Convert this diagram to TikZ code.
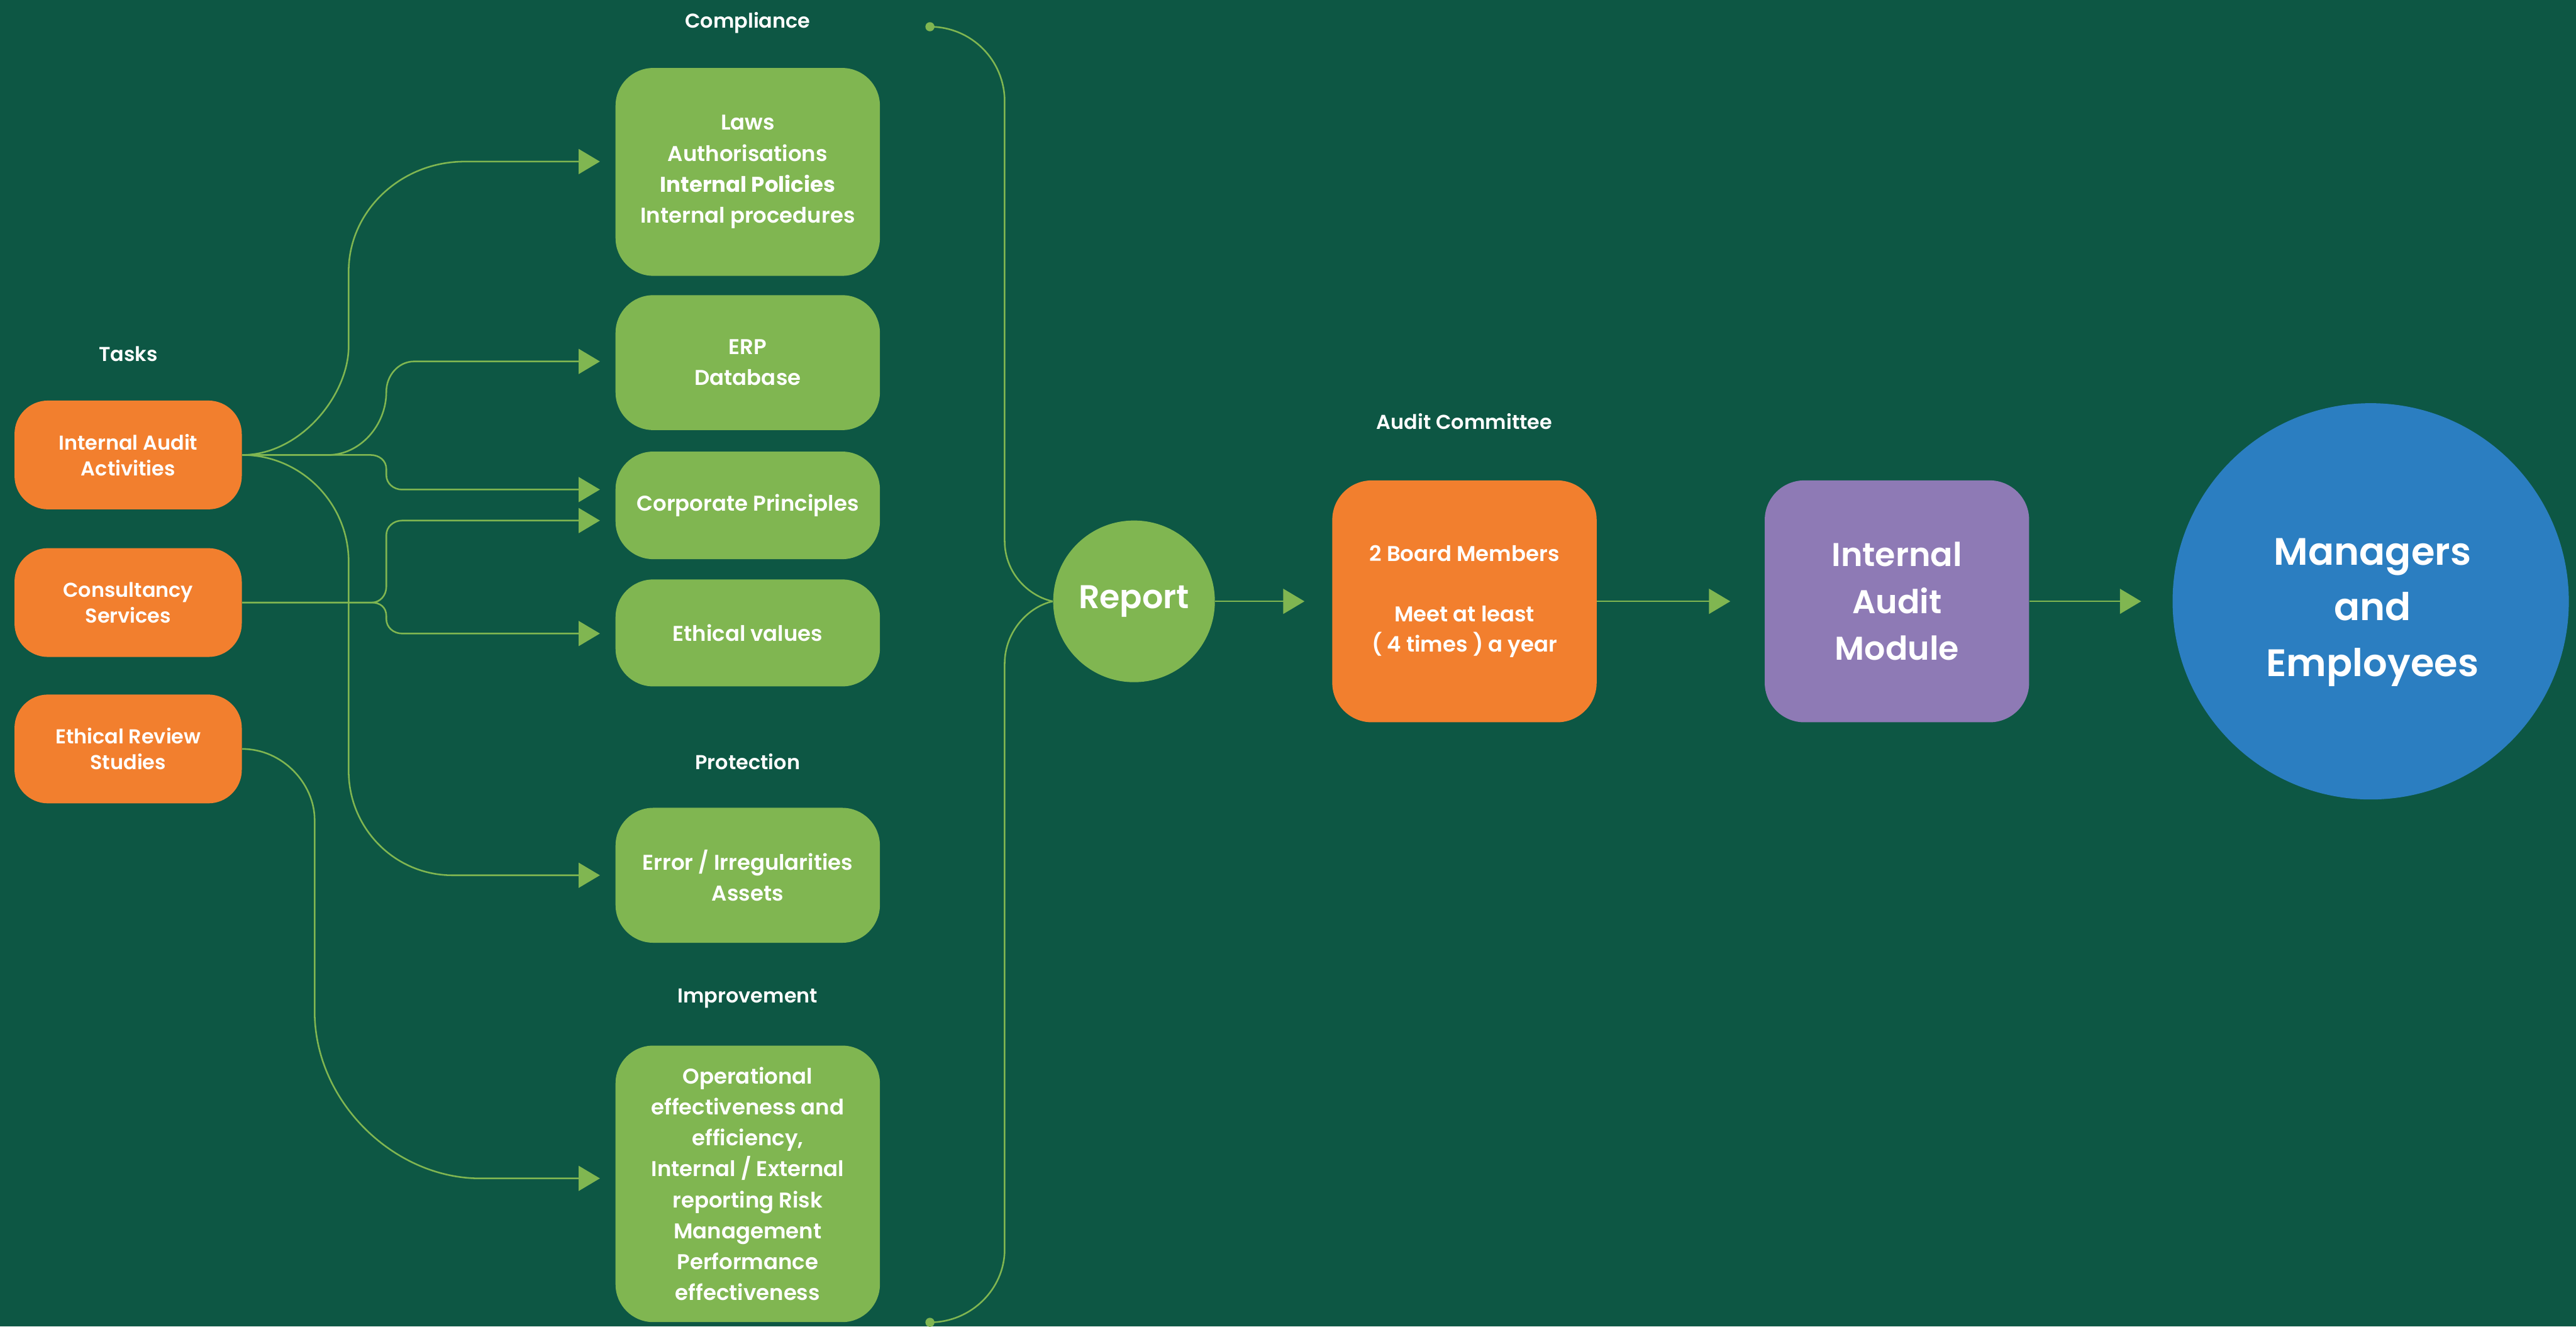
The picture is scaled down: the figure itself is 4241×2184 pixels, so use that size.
\documentclass[tikz,border=0pt]{standalone}
\usepackage{fontspec}
\setmainfont{Poppins}[UprightFont=* SemiBold, BoldFont=* Bold]
\usepackage{xcolor}
\usepackage{tikz}
\usetikzlibrary{arrows.meta}
\usetikzlibrary{calc, positioning}

\definecolor{bgC}{HTML}{0D5744}
\definecolor{greenC}{HTML}{80B651}
\definecolor{orangeC}{HTML}{F27F2E}
\definecolor{purpleC}{HTML}{8E7AB5}
\definecolor{blueC}{HTML}{2B7EC1}

\tikzstyle{task}=[rectangle, rounded corners=0.55cm, fill=orangeC, minimum width=3.74cm, minimum height=1.79cm, align=center, font=\fontsize{9.4pt}{12.2pt}\selectfont]
\tikzstyle{topic}=[rectangle, rounded corners=0.62cm, fill=greenC, minimum width=4.35cm, align=center, font=\fontsize{10pt}{14.5pt}\selectfont]
\tikzstyle{caption}=[font=\fontsize{9.4pt}{12pt}\selectfont]
\tikzstyle{link}=[draw=greenC, line width=0.75pt]
\tikzstyle{dot}=[circle, fill=greenC, inner sep=0pt, minimum size=0.15cm]

\begin{document}
\begin{tikzpicture}[x=0.01cm, y=-0.01cm]

\tikzset{>={Triangle[length=0.35cm, width=0.41cm]}}
\tikzset{every node/.style={text=white}}

% Background
\fill[bgC] (0,0) rectangle (4241,2184);
\useasboundingbox (0,0) rectangle (4241,2184);

% Tasks
\node[caption] (tasks) at (211,583) {Tasks};
\node[task] (ia) at (211,749) {Internal Audit\\Activities};
\node[task] (cs) at (211,992) {Consultancy\\Services};
\node[task] (er) at (211,1233) {Ethical Review\\Studies};

% Compliance, protection, improvement
\node[caption] (compl) at (1231,37) {Compliance};
\node[topic, minimum height=3.42cm] (comp) at (1231,283) {Laws\\Authorisations\\\textbf{Internal Policies}\\Internal procedures};
\node[topic, minimum height=2.22cm] (erp) at (1231,597) {ERP\\Database};
\node[topic, minimum height=1.77cm] (corp) at (1231,832) {Corporate Principles};
\node[topic, minimum height=1.76cm] (eth) at (1231,1042) {Ethical values};
\node[caption] (protl) at (1231,1254) {Protection};
\node[topic, minimum height=2.22cm] (prot) at (1231,1441) {Error / Irregularities\\Assets};
\node[caption] (imprl) at (1231,1644) {Improvement};
\node[topic, minimum height=4.55cm] (impr) at (1231,1949) {Operational\\effectiveness and\\efficiency,\\Internal / External\\reporting Risk\\Management\\Performance\\effectiveness};

% Report and the chain to the right
\node[circle, fill=greenC, minimum size=2.66cm, font=\fontsize{15.4pt}{18pt}\selectfont] (rep) at (1867,990) {Report};
\node[caption] (acl) at (2411,694) {Audit Committee};
\node[rectangle, rounded corners=0.65cm, fill=orangeC, minimum width=4.35cm, minimum height=3.98cm, align=center, font=\fontsize{10pt}{14.2pt}\selectfont] (ac) at (2411,990) {2 Board Members\\ \\Meet at least\\( 4 times ) a year};
\node[rectangle, rounded corners=0.65cm, fill=purpleC, minimum width=4.35cm, minimum height=3.98cm, align=center, font=\fontsize{15.4pt}{21.9pt}\selectfont] (iam) at (3123,990) {Internal\\Audit\\Module};
\node[circle, fill=blueC, minimum size=6.52cm] (me) at (3903,990) {};
\node[align=center, font=\fontsize{17.9pt}{26pt}\selectfont] (metxt) at (3906,1008) {Managers\\and\\Employees};

% Bracket into the report
\node[dot] (ctop) at (1531,44) {};
\node[dot] (cbot) at (1531,2177) {};
\draw[link] (ctop.center) .. controls (1599,44) and (1654,99) .. (1654,167) -- (1654,890) .. controls (1654,945) and (1695,982) .. (rep.west);
\draw[link] (cbot.center) .. controls (1599,2177) and (1654,2122) .. (1654,2057) -- (1654,1093) .. controls (1654,1038) and (1695,998) .. (rep.west);

% Arrows from the tasks
\draw[link,->] (ia.east) .. controls (495,749) and (574,650) .. (574,570) -- (574,447) .. controls (574,347) and (660,266) .. (765,266) -- ($(comp.west)+(-25,-17)$); % ia -> comp
\draw[link,->] (ia.east) -- (540,749) .. controls (593,749) and (636,700) .. (636,645) .. controls (636,618) and (656,595) .. (682,595) -- ($(erp.west)+(-25,-2)$); % ia -> erp
\draw[link,->] (ia.east) -- (610,749) .. controls (624,749) and (636,758) .. (636,772) -- (636,782) .. controls (636,796) and (648,806) .. (662,806) -- ($(corp.west)+(-25,-26)$); % ia -> corp
\draw[link,->] (ia.east) .. controls (495,749) and (574,828) .. (574,925) -- (574,1269) .. controls (574,1364) and (650,1441) .. (745,1441) -- ($(prot.west)+(-25,0)$); % ia -> prot
\draw[link,->] (cs.east) -- (612,992) .. controls (626,992) and (636,980) .. (636,966) -- (636,881) .. controls (636,867) and (648,857) .. (662,857) -- ($(corp.west)+(-25,25)$); % cs -> corp
\draw[link,->] (cs.east) -- (612,992) .. controls (626,992) and (636,1000) .. (636,1014) -- (636,1019) .. controls (636,1033) and (648,1043) .. (662,1043) -- ($(eth.west)+(-25,1)$); % cs -> eth
\draw[link,->] (er.east) .. controls (465,1233) and (518,1290) .. (518,1350) -- (518,1665) .. controls (518,1815) and (650,1940) .. (790,1940) -- ($(impr.west)+(-25,-9)$); % er -> impr

% Chain
\draw[link,->,shorten >=0.45cm] (rep) -- (ac);
\draw[link,->,shorten >=0.56cm] (ac) -- (iam);
\draw[link,->,shorten >=0.51cm] (iam) -- (me);

\end{tikzpicture}
\end{document}
